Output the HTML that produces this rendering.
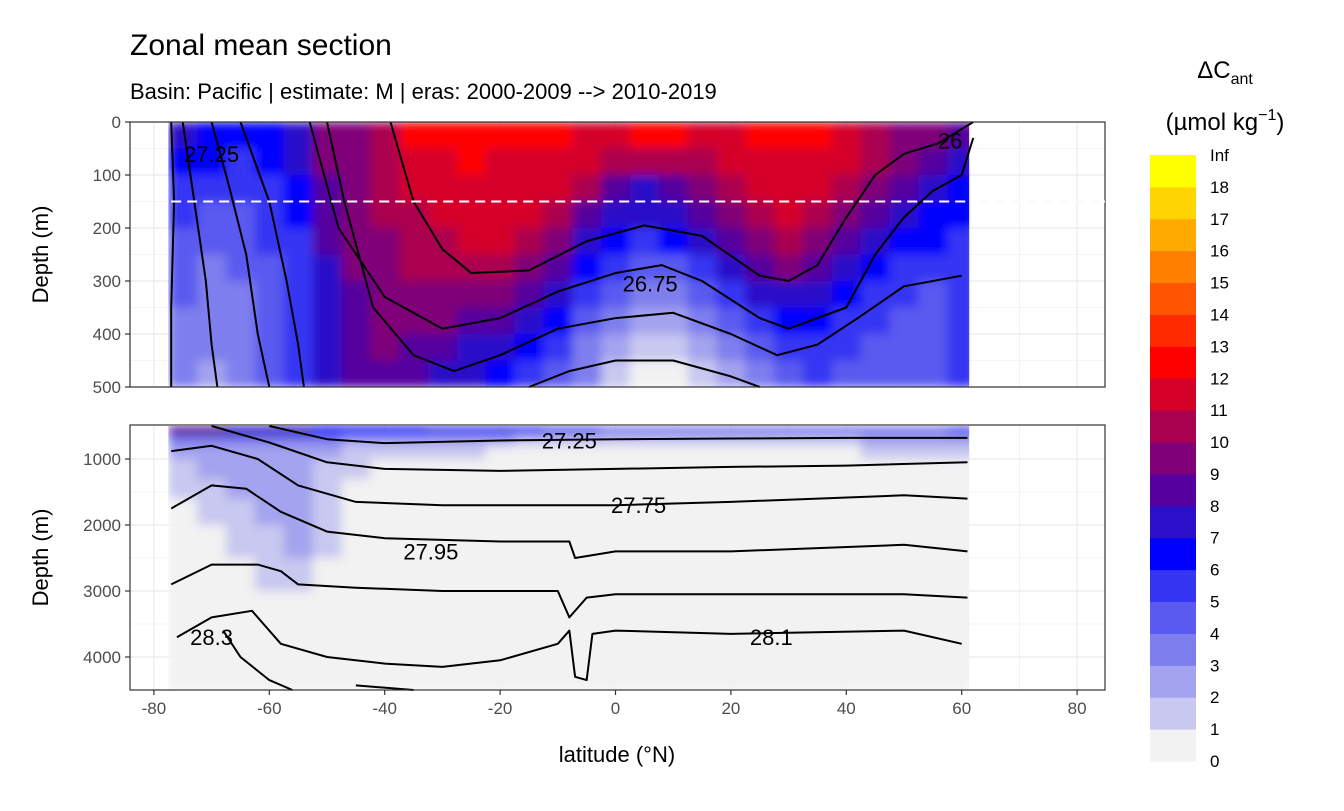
<!DOCTYPE html>
<html><head><meta charset="utf-8">
<style>
body{margin:0;background:#fff;}
svg text{font-family:"Liberation Sans",sans-serif;}
</style></head>
<body>
<svg id="chart" width="1344" height="806" viewBox="0 0 1344 806" xmlns="http://www.w3.org/2000/svg">
<defs>
<filter id="blur" x="0" y="0" width="1" height="1" filterUnits="objectBoundingBox"><feGaussianBlur stdDeviation="5" edgeMode="duplicate"/></filter>
</defs>
<text x="130" y="55" font-size="30" fill="#000">Zonal mean section</text>
<text x="130" y="99" font-size="22" fill="#000">Basin: Pacific | estimate: M  | eras: 2000-2009 --&gt; 2010-2019</text>
<g id="top"></g><g id="bot"></g><g id="legend"></g><g id="axes"></g>
</svg>
<script>
const NS="http://www.w3.org/2000/svg";
const latCenters=[-75,-70,-65,-60,-55,-50,-45,-40,-35,-30,-25,-20,-15,-10,-5,0,5,10,15,20,25,30,35,40,45,50,55,60];
const topDepths=[0,50,100,150,200,250,300,350,400,450,500];
const topValues=[
[7,6,6,6,7,9,9,10,12,12,12,12,12,12,11,11,12,12,11,11,12,12,12,11,10,9,9,8],
[6,6,5,6,7,9,9,10,11,11,12,11,11,11,11,10,10,10,10,11,11,11,11,11,10,9,8,7],
[5,5,5,5,6,8,9,10,11,11,11,11,11,11,10,8,7,8,9,10,11,11,11,10,9,8,7,6],
[5,4,4,5,6,8,9,10,10,11,11,11,11,10,8,7,7,7,8,9,10,11,10,9,8,7,6,6],
[4,4,4,5,5,8,9,9,10,10,11,11,10,9,7,6,5,6,7,8,9,10,9,8,7,6,6,5],
[4,3,4,4,5,7,9,9,10,10,10,10,9,8,6,5,4,4,5,7,8,9,8,7,6,5,5,5],
[4,3,3,4,5,7,8,9,9,9,9,9,8,7,5,4,3,3,4,5,7,7,7,6,5,5,4,5],
[3,3,3,4,5,7,8,9,9,9,8,8,7,6,4,3,2,2,3,4,5,6,6,5,5,4,4,5],
[3,3,3,4,5,7,8,9,8,8,7,7,6,5,3,2,1,1,2,3,4,5,5,5,4,4,4,5],
[3,2,3,4,5,7,8,8,8,7,7,6,5,4,3,1,0,0,1,2,3,4,5,4,4,4,4,5]];
const botDepths=[500,650,800,1000,1300,1600,2000,2500,3000,3500,4000,4500];
const botValues=[
[8,8,7,7,7,6,6,6,6,5,5,5,5,4,4,3,3,3,3,3,3,3,3,3,3,3,3,4],
[3,3,3,3,3,3,2,2,2,2,2,2,1,1,1,1,1,1,1,1,1,1,1,1,2,2,2,2],
[2,2,2,2,2,2,1,1,1,1,1,0,0,0,0,0,0,0,0,0,0,0,0,0,1,1,1,1],
[1,2,2,2,2,1,1,0,0,0,0,0,0,0,0,0,0,0,0,0,0,0,0,0,0,0,0,0],
[1,1,2,2,2,1,0,0,0,0,0,0,0,0,0,0,0,0,0,0,0,0,0,0,0,0,0,0],
[0,1,1,2,2,1,0,0,0,0,0,0,0,0,0,0,0,0,0,0,0,0,0,0,0,0,0,0],
[0,0,1,1,2,1,0,0,0,0,0,0,0,0,0,0,0,0,0,0,0,0,0,0,0,0,0,0],
[0,0,0,1,1,0,0,0,0,0,0,0,0,0,0,0,0,0,0,0,0,0,0,0,0,0,0,0],
[0,0,0,0,0,0,0,0,0,0,0,0,0,0,0,0,0,0,0,0,0,0,0,0,0,0,0,0],
[0,0,0,0,0,0,0,0,0,0,0,0,0,0,0,0,0,0,0,0,0,0,0,0,0,0,0,0],
[0,0,0,0,0,0,0,0,0,0,0,0,0,0,0,0,0,0,0,0,0,0,0,0,0,0,0,0]];
const binColors=["#f2f2f2","#c8c8f0","#a3a3ef","#7e7eee","#5a5af0","#3535f3","#0000ff","#2a10c8","#55009f","#7f0078","#aa0050","#d4002a","#ff0000","#ff2a00","#ff5500","#ff8000","#ffaa00","#ffd400","#ffff00"];
const legendLabels=["0","1","2","3","4","5","6","7","8","9","10","11","12","13","14","15","16","17","18","Inf"];
const topContours=[
[[-77,0],[-76.5,150],[-77,350],[-77,500]],
[[-75,0],[-73,150],[-71,300],[-70,420],[-69,500]],
[[-70,0],[-67,120],[-64,250],[-62,400],[-60,500]],
[[-65,0],[-60,150],[-57,300],[-55,420],[-54,500]],
[[-39,0],[-35,150],[-30,240],[-25,285],[-15,280],[-5,225],[5,195],[15,215],[25,290],[30,300],[35,270],[40,180],[45,100],[50,60],[56,40],[62,0]],
[[-53,0],[-48,200],[-40,330],[-30,390],[-20,370],[-10,320],[0,285],[8,270],[15,300],[25,370],[30,390],[40,350],[45,250],[50,180],[55,130],[60,100],[62,30]],
[[-50,0],[-47,150],[-42,350],[-35,440],[-28,470],[-20,440],[-10,390],[0,370],[10,360],[20,400],[28,440],[35,420],[42,370],[50,310],[60,290]],
[[-15,500],[-8,470],[0,450],[10,450],[20,480],[25,500]]];
const botContours=[
[[-60,500],[-50,700],[-40,760],[-20,720],[0,700],[20,690],[40,680],[61,680]],
[[-70,500],[-60,750],[-50,1050],[-40,1150],[-20,1180],[0,1150],[20,1120],[40,1100],[61,1050]],
[[-77,880],[-70,800],[-62,1000],[-55,1400],[-45,1650],[-30,1700],[0,1700],[20,1650],[50,1550],[61,1600]],
[[-77,1750],[-70,1400],[-64,1450],[-58,1800],[-50,2100],[-40,2200],[-20,2250],[-8,2250],[-7,2500],[0,2400],[20,2400],[50,2300],[61,2400]],
[[-77,2900],[-70,2600],[-62,2600],[-58,2700],[-55,2900],[-45,2950],[-30,3000],[-10,3000],[-8,3400],[-5,3100],[0,3050],[30,3050],[50,3050],[61,3100]],
[[-76,3700],[-70,3400],[-63,3300],[-58,3800],[-50,4000],[-40,4100],[-30,4150],[-20,4050],[-10,3800],[-8,3600],[-7,4300],[-5,4350],[-4,3650],[0,3600],[20,3650],[50,3600],[60,3800]],
[[-68,3600],[-65,4000],[-60,4350],[-56,4500]],
[[-45,4430],[-35,4500]]];
const topLabels=[["27.25",-70,60],["26.75",6,305],["26",58,35]];
const botLabels=[["27.25",-8,720],["27.75",4,1700],["27.95",-32,2400],["28.3",-70,3700],["28.1",27,3700]];
const xTicks=[-80,-60,-40,-20,0,20,40,60,80];
const topYTicks=[0,100,200,300,400,500];
const botYTicks=[1000,2000,3000,4000];

const PX0=130,PX1=1105;
const xS=l=>615.5+l*5.77;
const yTop=d=>122+d*0.53;
const yBot=d=>426+(d-500)*0.066;
function el(t,a,p){const e=document.createElementNS(NS,t);for(const k in a)e.setAttribute(k,a[k]);p.appendChild(e);return e;}
function bin(v){return Math.max(0,Math.min(18,Math.floor(v)));}
let clipN=0;
function panel(g,y0,y1,depths,values,yS,yt,contours,labels,yMinor){
  el('rect',{x:PX0,y:y0,width:PX1-PX0,height:y1-y0,fill:'#fff'},g);
  for(let l=-90;l<=90;l+=10){if(xS(l)<PX0||xS(l)>PX1)continue;el('line',{x1:xS(l),x2:xS(l),y1:y0,y2:y1,stroke:'#ebebeb','stroke-width':l%20===0?1.2:0.6},g);}
  yMinor.forEach(d=>el('line',{x1:PX0,x2:PX1,y1:yS(d),y2:yS(d),stroke:'#ebebeb','stroke-width':0.6},g));
  yt.forEach(d=>el('line',{x1:PX0,x2:PX1,y1:yS(d),y2:yS(d),stroke:'#ebebeb','stroke-width':1.2},g));
  const cid='clip'+(clipN++);
  const cp=el('clipPath',{id:cid},svg.querySelector('defs'));
  el('rect',{x:xS(-77.5),y:y0,width:xS(61.3)-xS(-77.5),height:y1-y0},cp);
  const outer=el('g',{'clip-path':`url(#${cid})`},g);
  const fg=el('g',{filter:'url(#blur)'},outer);
  for(let r=0;r<values.length;r++)for(let c=0;c<latCenters.length;c++){
    const la=latCenters[c]-2.5, lb=latCenters[c]+2.5;
    const cell=el('rect',{x:xS(la),y:yS(depths[r]),width:xS(lb)-xS(la)+0.6,height:yS(depths[r+1])-yS(depths[r])+0.6,fill:binColors[bin(values[r][c])]},fg);
    
    
  }
  contours.forEach(pts=>{
    const p=el('polyline',{points:pts.map(q=>xS(q[0])+','+yS(q[1])).join(' '),fill:'none',stroke:'#000','stroke-width':2,'stroke-linejoin':'round'},g);
    
    
  });
  labels.forEach(L=>{
    const t=el('text',{x:xS(L[1]),y:yS(L[2])+8,'font-size':22,'text-anchor':'middle',fill:'#000'},g);t.textContent=L[0];
    
    
  });
  el('rect',{x:PX0,y:y0,width:PX1-PX0,height:y1-y0,fill:'none',stroke:'#333','stroke-width':1.2},g);
  yt.forEach(d=>{
    el('line',{x1:PX0-5,x2:PX0,y1:yS(d),y2:yS(d),stroke:'#333','stroke-width':1.2},g);
    const t=el('text',{x:PX0-9,y:yS(d)+6,'font-size':17,'text-anchor':'end',fill:'#4d4d4d'},g);t.textContent=d;
    
    
  });
  const yl=el('text',{x:0,y:0,'font-size':22,'text-anchor':'middle',fill:'#000',transform:`translate(48,${(y0+y1)/2}) rotate(-90)`},g);yl.textContent='Depth (m)';
  
  
}
const svg=document.getElementById('chart');
const gt=document.getElementById('top');
panel(gt,122,387,topDepths,topValues,yTop,topYTicks,topContours,topLabels,[50,150,250,350,450]);
const dl=el('line',{x1:xS(-77),x2:PX1,y1:yTop(150),y2:yTop(150),stroke:'#fff','stroke-width':2,'stroke-dasharray':'10,6'},gt);


const gb=document.getElementById('bot');
panel(gb,425,690,botDepths,botValues,yBot,botYTicks,botContours,botLabels,[1500,2500,3500]);
const ga=document.getElementById('axes');
xTicks.forEach(l=>{
  el('line',{x1:xS(l),x2:xS(l),y1:690,y2:695,stroke:'#333','stroke-width':1.2},ga);
  const t=el('text',{x:xS(l),y:714,'font-size':17,'text-anchor':'middle',fill:'#4d4d4d'},ga);t.textContent=l;
  
  
});
const xt=el('text',{x:617,y:762,'font-size':22,'text-anchor':'middle',fill:'#000'},ga);xt.textContent='latitude (°N)';


const gl=document.getElementById('legend');
const lt=el('text',{x:1225,y:78,'font-size':24,'text-anchor':'middle',fill:'#000'},gl);lt.innerHTML='ΔC<tspan font-size="16" dy="6">ant</tspan>';


const lu=el('text',{x:1225,y:130,'font-size':24,'text-anchor':'middle',fill:'#000'},gl);lu.innerHTML='(µmol kg<tspan font-size="16" dy="-10">−1</tspan><tspan dy="10">)</tspan>';


const LB=761,LT=155,step=(LB-LT)/19;
binColors.forEach((c,i)=>{
  const r=el('rect',{x:1150,y:LB-(i+1)*step,width:46,height:step+0.5,fill:c},gl);
  
  
});
legendLabels.forEach((s,i)=>{
  const t=el('text',{x:1210,y:LB-i*step+6,'font-size':17,fill:'#000'},gl);t.textContent=s;
  
  
});
</script>
</body></html>
